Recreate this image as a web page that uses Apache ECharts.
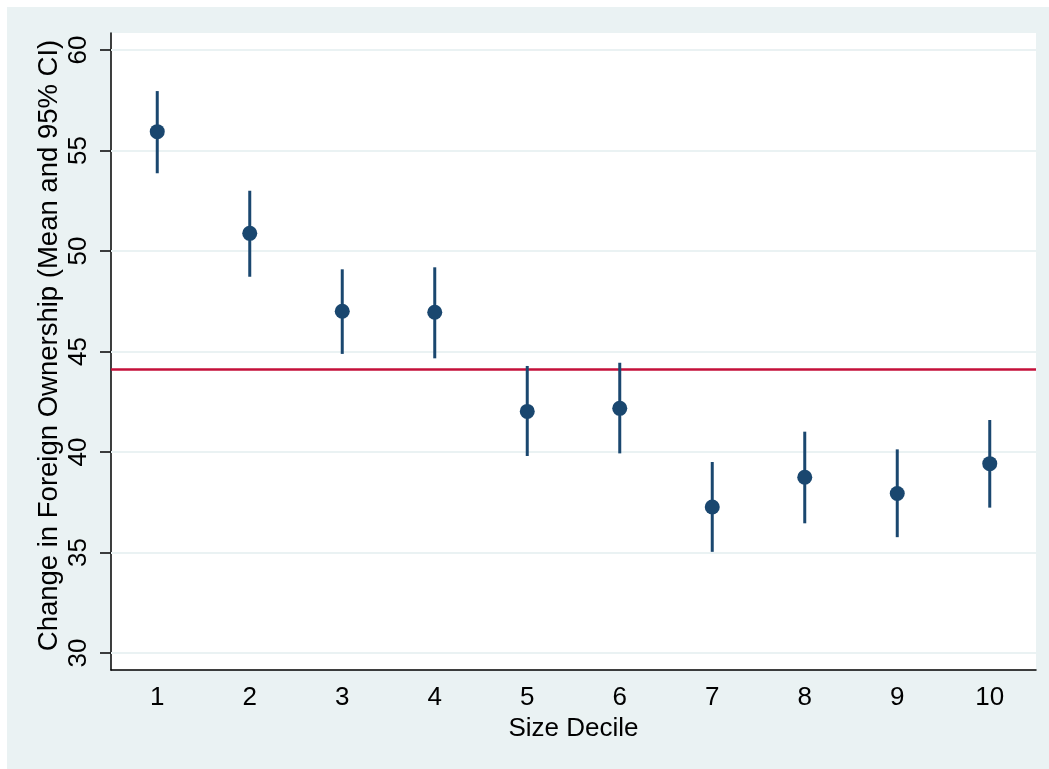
<!DOCTYPE html>
<html>
<head>
<meta charset="utf-8">
<script src="https://cdn.jsdelivr.net/npm/echarts@6/dist/echarts.min.js"></script>
<style>
    body { margin: 0; background: #ffffff; }
    #chart { position: absolute; left: 7px; top: 7px; width: 1042px; height: 762px; background: #eaf2f3; }
</style>
</head>
<body>
<div id="chart"></div>
<script>
// size deciles on the x axis
var deciles = ['1', '2', '3', '4', '5', '6', '7', '8', '9', '10'];
// mean change in foreign ownership, with 95% CI bounds
var means = [55.94, 50.88, 47.0, 46.95, 42.02, 42.17, 37.26, 38.74, 37.93, 39.42];
var ciLow = [53.87, 48.72, 44.88, 44.66, 39.80, 39.93, 35.03, 36.45, 35.76, 37.23];
var ciHigh = [57.96, 53.0, 49.09, 49.19, 44.28, 44.44, 39.5, 41.01, 40.13, 41.59];
var yTicks = [30, 35, 40, 45, 50, 55, 60];
var overallMean = 44.14;

var chart = echarts.init(document.getElementById('chart'));

var ciData = [];
for (var i = 0; i < deciles.length; i++) {
    ciData.push([i, ciLow[i], ciHigh[i]]);
}

var gridLines = [];
for (var j = 0; j < yTicks.length; j++) {
    gridLines.push({ yAxis: yTicks[j] });
}

var option = {
    backgroundColor: 'transparent',
    animation: false,
    textStyle: { fontFamily: 'Liberation Sans, Arial, sans-serif' },
    grid: {
        left: 104, right: 13, top: 26, bottom: 99,
        show: true, backgroundColor: '#ffffff', borderWidth: 0
    },
    xAxis: {
        type: 'category',
        data: deciles,
        boundaryGap: true,
        name: 'Size Decile',
        nameLocation: 'middle',
        nameGap: 40,
        nameTextStyle: { fontSize: 26, color: '#000' },
        axisLine: { lineStyle: { color: '#000', width: 1.5 } },
        axisTick: { alignWithLabel: true, length: 10, lineStyle: { color: '#000', width: 1.5 } },
        axisLabel: { fontSize: 26, color: '#000', margin: 15 },
        splitLine: { show: false }
    },
    yAxis: {
        type: 'value',
        min: 29.15,
        max: 60.85,
        name: 'Change in Foreign Ownership (Mean and 95% CI)',
        nameLocation: 'middle',
        nameGap: 48,
        nameMoveOverlap: false,
        nameTextStyle: { fontSize: 27.5, color: '#000', padding: [0, 0, 0, 12] },
        axisLine: { show: true, lineStyle: { color: '#000', width: 1.5 } },
        axisTick: { show: true, length: 11, customValues: yTicks, lineStyle: { color: '#000', width: 1.5 } },
        axisLabel: { fontSize: 26, color: '#000', rotate: 90, margin: 19, customValues: yTicks },
        splitLine: { show: false }
    },
    series: [
        {
            // horizontal gridlines and the overall mean line
            type: 'line',
            data: [],
            z: 1,
            markLine: {
                silent: true,
                z: 1,
                symbol: 'none',
                label: { show: false },
                lineStyle: { color: '#eaf2f3', width: 2, type: 'solid' },
                data: gridLines.concat([{ yAxis: overallMean, lineStyle: { color: '#c4103a', width: 2.5 } }])
            }
        },
        {
            type: 'custom',
            z: 3,
            data: ciData,
            renderItem: function(params, api) {
                var top = api.coord([api.value(0), api.value(2)]);
                var bottom = api.coord([api.value(0), api.value(1)]);
                return {
                    type: 'line',
                    shape: { x1: top[0], y1: top[1], x2: bottom[0], y2: bottom[1] },
                    style: { stroke: '#1a476f', lineWidth: 3 }
                };
            }
        },
        {
            type: 'scatter',
            z: 4,
            data: means,
            symbol: 'circle',
            symbolSize: 15,
            itemStyle: { color: '#1a476f', opacity: 1 }
        }
    ]
};

chart.setOption(option);
</script>
</body>
</html>
